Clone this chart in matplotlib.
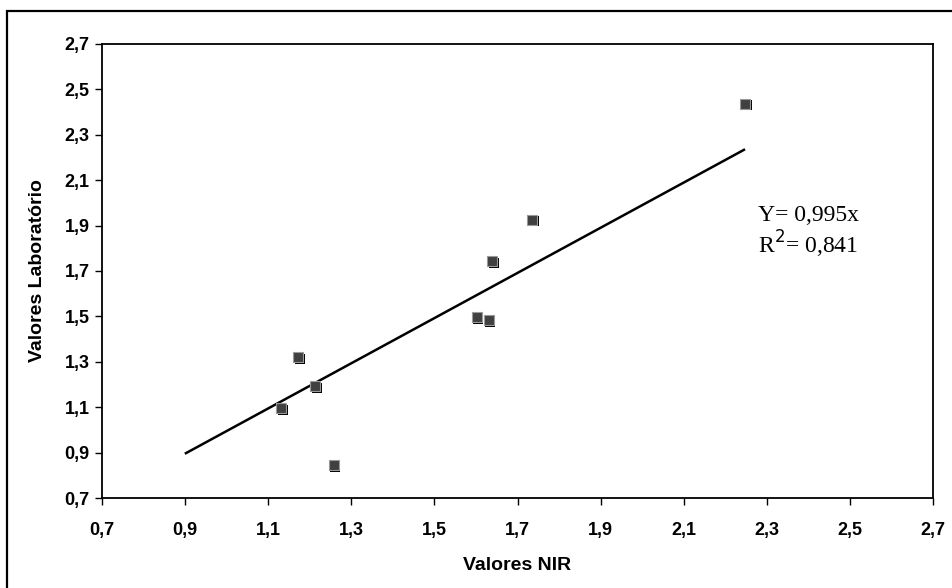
import matplotlib
matplotlib.use("Agg")
import matplotlib.pyplot as plt
import matplotlib.transforms as mtransforms
from matplotlib.patches import Rectangle
import numpy as np

nir = [1.131, 1.172, 1.213, 1.258, 1.602, 1.631, 1.639, 1.735, 2.248]
lab = [1.096, 1.321, 1.193, 0.845, 1.497, 1.484, 1.744, 1.925, 2.436]
slope = 0.995
fit_x = [0.902, 2.245]
ticks = [0.7, 0.9, 1.1, 1.3, 1.5, 1.7, 1.9, 2.1, 2.3, 2.5, 2.7]
tick_labels = ["0,7", "0,9", "1,1", "1,3", "1,5", "1,7", "1,9", "2,1", "2,3", "2,5", "2,7"]

W, H = 953, 588
fig = plt.figure(figsize=(W / 100, H / 100), dpi=100)
ax = fig.add_axes([102 / W, 1 - 498 / H, (933 - 102) / W, (498 - 44) / H])

# outer frame
fig.patches.append(Rectangle((7 / W, -0.1), 1.2, 1 - 11 / H + 0.1, transform=fig.transFigure,
                             fill=False, edgecolor="black", linewidth=1.6, clip_on=False))

fx = np.array(fit_x)
ax.plot(fx, slope * fx, color="black", linewidth=1.8, zorder=2)

shadow = mtransforms.offset_copy(ax.transData, fig=fig, x=1.5, y=-1.5, units="dots")
ax.scatter(nir, lab, marker="s", s=42, color="black", linewidths=0, transform=shadow, zorder=3)
ax.scatter(nir, lab, marker="s", s=42, color="#404040", edgecolors="#9a9a9a", linewidths=0.8, zorder=4)

ax.set_xlim(0.7, 2.7)
ax.set_ylim(0.7, 2.7)
ax.set_xticks(ticks)
ax.set_yticks(ticks)
ax.set_xticklabels(tick_labels)
ax.set_yticklabels(tick_labels)
for lbl in ax.get_xticklabels() + ax.get_yticklabels():
    lbl.set_fontfamily("Liberation Sans")
    lbl.set_fontweight("bold")
    lbl.set_fontsize(13)
ax.tick_params(direction="out", length=5, width=1, pad=4)
ax.tick_params(axis="x", pad=12)
for sp in ax.spines.values():
    sp.set_linewidth(1.3)

ax.set_xlabel("Valores NIR", fontfamily="Liberation Sans", fontweight="bold", fontsize=14)
ax.set_ylabel("Valores Laboratório", fontfamily="Liberation Sans", fontweight="bold", fontsize=14)
ax.xaxis.set_label_coords(0.5, (498 - 566) / 454, transform=ax.transAxes)
ax.yaxis.set_label_coords((38 - 102) / 831, 0.5, transform=ax.transAxes)
ax.xaxis.label.set_va("center")
ax.yaxis.label.set_va("center")

ax.text(2.28, 1.945, "Y= 0,995x", fontfamily="Liberation Serif", fontsize=17, va="center", ha="left")
ax.text(2.28, 1.815, "R$^2$= 0,841", fontfamily="Liberation Serif", fontsize=17, va="center", ha="left")

fig.savefig("out.png", dpi=100)
